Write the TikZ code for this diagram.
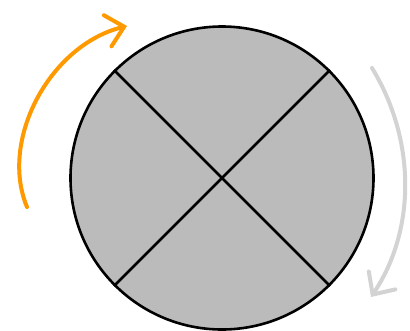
\documentclass[tikz,border=0pt]{standalone}
\usetikzlibrary{arrows.meta}
\definecolor{diskgray}{HTML}{BBBBBB}
\definecolor{arroworange}{HTML}{FF9900}
\definecolor{arrowgray}{HTML}{D3D3D3}
\tikzset{
  disk/.style={circle, draw=black, line width=2.6pt, fill=diskgray, minimum size=303pt, inner sep=0pt},
  divider/.style={draw=black, line width=2.6pt},
  turnarrow/.style={line width=4pt, line cap=round, -{Straight Barb[length=17pt,width=32pt,line cap=round]}}
}
\begin{document}
\begin{tikzpicture}[x=1pt,y=-1pt]
\useasboundingbox (0,0) rectangle (410,330);
\node[disk] (c) at (222,178) {};
\draw[divider] (c.135) -- (c.-45);
\draw[divider] (c.45) -- (c.-135);
\coordinate (oa) at (27,207);
\coordinate (ob) at (127,26);
\draw[turnarrow, arroworange] (oa) .. controls (-1,140) and (50,45) .. (ob);
\coordinate (ga) at (372,68);
\coordinate (gb) at (371,297);
\draw[turnarrow, arrowgray] (ga) .. controls (416,140) and (416,230) .. (gb);
\end{tikzpicture}
\end{document}
